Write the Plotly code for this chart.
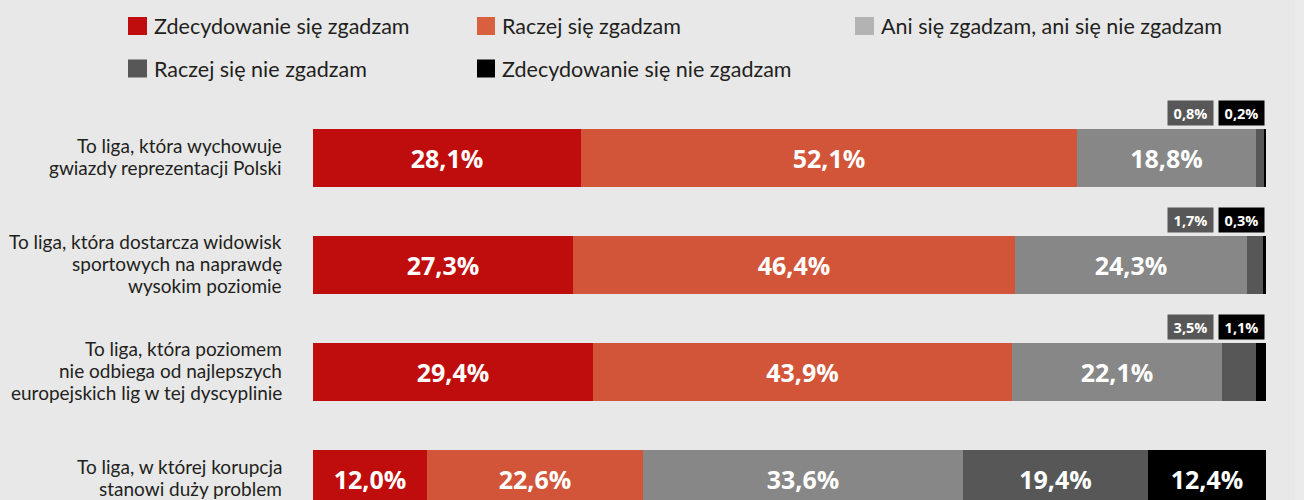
import plotly.graph_objects as go

# Survey statements (rows, top to bottom); "<br>" marks line breaks
categories = [
    "To liga, która wychowuje<br>gwiazdy reprezentacji Polski",
    "To liga, która dostarcza widowisk<br>sportowych na naprawdę<br>wysokim poziomie",
    "To liga, która poziomem<br>nie odbiega od najlepszych<br>europejskich lig w tej dyscyplinie",
    "To liga, w której korupcja<br>stanowi duży problem",
]

series_names = [
    "Zdecydowanie się zgadzam",
    "Raczej się zgadzam",
    "Ani się zgadzam, ani się nie zgadzam",
    "Raczej się nie zgadzam",
    "Zdecydowanie się nie zgadzam",
]

# Answer shares in percent
strongly_agree = [28.1, 27.3, 29.4, 12.0]
rather_agree = [52.1, 46.4, 43.9, 22.6]
neutral = [18.8, 24.3, 22.1, 33.6]
rather_disagree = [0.8, 1.7, 3.5, 19.4]
strongly_disagree = [0.2, 0.3, 1.1, 12.4]

series_values = [strongly_agree, rather_agree, neutral, rather_disagree, strongly_disagree]
bar_colors = ["#bf0d0d", "#d2553a", "#878787", "#575757", "#000000"]
legend_colors = ["#bf0d0d", "#d9603f", "#b3b3b3", "#575757", "#000000"]

W, H = 1304, 500
BG = "#e8e8e8"
TEXT_FONT = "Lato"
NUM_FONT = "Open Sans"
SMALL = 5.0  # segments below this get a label box above the bar
LINE_H = 22  # line spacing of the statement labels, px


def pct(v):
    return f"{v:.1f}".replace(".", ",") + "%"


rows = list(range(len(categories)))
fig = go.Figure()

for name, vals, col in zip(series_names, series_values, bar_colors):
    fig.add_trace(go.Bar(
        y=rows, x=vals, orientation="h", name=name,
        marker=dict(color=col, line=dict(width=0)),
        width=0.542,
        text=[pct(v) if v >= SMALL else "" for v in vals],
        textposition="inside", insidetextanchor="middle",
        textfont=dict(family=NUM_FONT, size=25, color="white", weight="bold"),
        constraintext="none",
        hoverinfo="skip", showlegend=False,
    ))

annotations = []
shapes = []

# Statement labels left of the bars, one annotation per line for tight leading
for i, cat in enumerate(categories):
    lines = cat.split("<br>")
    n = len(lines)
    for j, line in enumerate(lines):
        annotations.append(dict(
            x=284 / W, xref="paper", xanchor="right",
            y=i, yref="y", yanchor="middle", yshift=((n - 1) / 2 - j) * LINE_H + 2,
            text=line, showarrow=False, align="right",
            font=dict(family=TEXT_FONT, size=19, color="#231f20"),
        ))

# Boxed labels for thin segments, right-aligned above the bar end
for i in rows:
    for k in (3, 4):
        v = series_values[k][i]
        if v >= SMALL:
            continue
        shift = -1 if k == 4 else -52
        annotations.append(dict(
            x=100, xref="x", xanchor="right", xshift=shift,
            y=i, yref="y", yanchor="middle", yshift=45,
            text=pct(v), showarrow=False,
            width=45, height=24, bgcolor=bar_colors[k], borderpad=0,
            font=dict(family=NUM_FONT, size=14.5, color="white", weight="bold"),
        ))

# Legend: colour squares with labels (series index, square x0, x1, row centre y)
legend_items = [
    (0, 128, 147, 26), (1, 477, 495, 26), (2, 855, 874, 26),
    (3, 128, 147, 68.5), (4, 477, 495, 68.5),
]
for k, x0, x1, yc in legend_items:
    shapes.append(dict(
        type="rect", xref="paper", yref="paper",
        x0=x0 / W, x1=x1 / W, y0=1 - (yc - 9) / H, y1=1 - (yc + 9) / H,
        fillcolor=legend_colors[k], line=dict(width=0),
    ))
    annotations.append(dict(
        x=(x1 + 5) / W, xref="paper", xanchor="left",
        y=1 - yc / H, yref="paper", yanchor="middle",
        text=series_names[k], showarrow=False,
        font=dict(family=TEXT_FONT, size=21.5, color="#231f20"),
    ))

# Light strip along the right edge
shapes.append(dict(type="rect", xref="paper", yref="paper", x0=1295 / W, x1=1, y0=0, y1=1,
                   fillcolor="#ebebeb", line=dict(width=0), layer="below"))

fig.update_layout(
    width=W, height=H,
    margin=dict(l=0, r=0, t=0, b=0),
    paper_bgcolor=BG, plot_bgcolor=BG,
    barmode="stack", bargap=0,
    xaxis=dict(range=[0, 100], domain=[313 / W, 1266 / W], visible=False, fixedrange=True),
    yaxis=dict(range=[(H - 158) / 107, -158 / 107], visible=False, fixedrange=True),
    annotations=annotations, shapes=shapes,
    showlegend=False,
)

fig.write_html("out.html")
